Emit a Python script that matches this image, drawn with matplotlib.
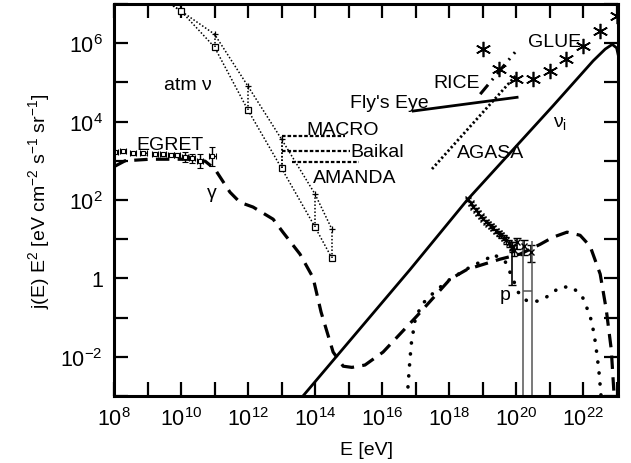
import numpy as np
import matplotlib
matplotlib.use("Agg")
import matplotlib.pyplot as plt

plt.rcParams['font.family'] = ['Liberation Sans', 'DejaVu Sans']
plt.rcParams['mathtext.fontset'] = 'custom'
plt.rcParams['mathtext.rm'] = 'Liberation Sans'
plt.rcParams['mathtext.it'] = 'Liberation Sans'
plt.rcParams['mathtext.default'] = 'regular'

# ---- data (log10 of energy in eV, log10 of E^2 j in eV cm^-2 s^-1 sr^-1) ----
# diffuse gamma-ray background model (dashed)
gamma_logE = [8.0, 8.33, 9.07, 10.27, 10.72, 11.01, 11.46, 11.76, 12.15, 12.75,
              13.04, 13.55, 13.94, 14.18, 14.54, 14.84, 15.10, 15.49, 16.03,
              17.04, 18.03, 18.54, 19.52, 20.12, 20.72, 21.10, 21.52, 21.91,
              22.21, 22.51, 22.69, 22.84, 22.93]
gamma_logF = [2.85, 3.0, 3.04, 3.04, 2.99, 2.79, 2.20, 1.94, 1.82, 1.51,
              1.18, 0.62, 0.02, -0.86, -1.88, -2.24, -2.27, -2.21, -1.88,
              -0.96, -0.02, 0.23, 0.49, 0.62, 0.87, 1.05, 1.18, 1.10,
              0.82, 0.11, -0.79, -1.81, -3.05]

# proton flux model (dotted)
p_logE = [16.75, 16.81, 16.87, 16.99, 17.19, 17.58, 18.03, 18.63, 19.22, 19.31,
          19.67, 19.91, 20.06, 20.33, 20.66, 20.96, 21.31, 21.67, 21.97, 22.21,
          22.33, 22.42, 22.48, 22.54]
p_logF = [-3.05, -2.32, -1.68, -1.04, -0.66, -0.33, -0.02, 0.29, 0.54, 0.62,
          0.44, -0.02, -0.35, -0.58, -0.58, -0.45, -0.22, -0.22, -0.45, -0.96,
          -1.42, -1.98, -2.44, -3.05]

# neutrino flux model nu_i (solid)
nu_logE = [13.64, 16.84, 18.54, 21.10, 22.30, 22.66, 22.87, 23.0, 23.1]
nu_logF = [-3.0, 0.23, 2.0, 4.4, 5.55, 5.85, 5.97, 5.88, 5.5]

# EGRET diffuse gamma data
egret_logE = [8.03, 8.27, 8.57, 8.87, 9.22, 9.46, 9.70, 9.88, 10.12, 10.33, 10.57, 10.93]
egret_logF = [3.22, 3.24, 3.19, 3.19, 3.17, 3.17, 3.16, 3.14, 3.09, 3.06, 2.99, 3.12]
egret_err = [0.03, 0.03, 0.03, 0.03, 0.03, 0.04, 0.04, 0.05, 0.13, 0.12, 0.18, 0.24]

# atmospheric neutrino band (upper / lower)
atm_logE = [9.5, 10.0, 11.0, 12.0, 13.0, 14.0, 14.5]
atm_hi = [7.1, 6.82, 6.23, 4.90, 3.55, 2.15, 1.26]
atm_lo = [7.1, 6.82, 5.90, 4.29, 2.81, 1.31, 0.52]

# underground / under-ice limits: (log E start, log E end, log flux)
limit_names = ['MACRO', 'Baikal', 'AMANDA']
limit_E0 = [13.01, 13.02, 13.3]
limit_E1 = [14.9, 15.05, 15.3]
limit_F = [3.63, 3.24, 2.96]

# Fly's Eye, RICE, AGASA limits
flyseye_logE = [16.93, 20.03]
flyseye_logF = [4.27, 4.62]
rice_logE = [18.93, 19.97]
rice_logF = [4.70, 5.77]
agasa_logE = [17.49, 20.03]
agasa_logF = [2.79, 5.21]

# GLUE limits
glue_logE = [19.0, 19.5, 20.0, 20.5, 21.0, 21.5, 22.0, 22.5, 23.0]
glue_logF = [5.85, 5.34, 5.08, 5.08, 5.29, 5.59, 5.92, 6.31, 6.69]

# ultra-high-energy cosmic ray data
cr_logE = [18.57, 18.65, 18.72, 18.80, 18.87, 18.95, 19.02, 19.10, 19.17, 19.25,
           19.32, 19.40, 19.48, 19.55, 19.63, 19.70, 19.78, 19.87, 19.95]
cr_logF = [2.02, 1.92, 1.83, 1.75, 1.67, 1.58, 1.52, 1.45, 1.40, 1.33,
           1.28, 1.22, 1.15, 1.10, 1.04, 0.97, 0.90, 0.80, 0.72]
cr_err = [0.04, 0.04, 0.04, 0.04, 0.04, 0.04, 0.04, 0.04, 0.04, 0.05,
          0.05, 0.05, 0.06, 0.06, 0.07, 0.08, 0.09, 0.12, 0.14]
cr_hi_logE = [19.88, 20.03, 20.25, 20.45]
cr_hi_logF = [0.78, 0.92, 0.82, 0.68]
cr_hi_up = [0.16, 0.12, 0.15, 0.16]
cr_hi_dn = [0.95, 0.18, 0.22, 0.25]

# highest-energy bins with flux compatible with zero
zero_logE = [20.21, 20.48]
zero_top = [0.95, 0.95]
zero_bar = -0.33

x_tick_exp = list(range(8, 24))
y_tick_exp = list(range(-3, 8))
x_label_exp = [8, 10, 12, 14, 16, 18, 20, 22]
y_label_exp = {-2: r'10$^{-2}$', 0: '1', 2: r'10$^{2}$', 4: r'10$^{4}$', 6: r'10$^{6}$'}


def p10(v):
    return np.power(10.0, np.asarray(v, dtype=float))


fig = plt.figure(figsize=(6.31, 4.64), dpi=100)
ax = fig.add_axes([114 / 631, 1 - 397 / 464, 504 / 631, 392 / 464])
ax.set_xscale('log')
ax.set_yscale('log')
ax.set_xlim(1e8, 1.1e23)
ax.set_ylim(1e-3, 1e7)

# model curves
ax.plot(p10(gamma_logE), p10(gamma_logF), color='black', lw=2.3,
        linestyle=(0, (4.2, 2.6)))
ax.plot(p10(p_logE), p10(p_logF), color='black', lw=2.6,
        linestyle=(0, (0.05, 3.0)), dash_capstyle='round')
ax.plot(p10(nu_logE), p10(nu_logF), color='black', lw=2.0)

# atmospheric neutrinos
ax.plot(p10(atm_logE), p10(atm_hi), color='black', lw=1.1,
        linestyle=(0, (1, 1.3)), marker='+', ms=5, mew=0.9)
ax.plot(p10(atm_logE), p10(atm_lo), color='black', lw=1.1,
        linestyle=(0, (1, 1.3)), marker='s', ms=4.5, mfc='white', mew=0.9)
ax.vlines(p10(atm_logE), p10(atm_lo), p10(atm_hi), color='black', lw=1.1,
          linestyle=(0, (1, 1.3)))

# experimental limits
for e0, e1, f in zip(limit_E0, limit_E1, limit_F):
    ax.plot(p10([e0, e1]), p10([f, f]), color='black', lw=1.6,
            linestyle=(0, (1.6, 0.9)))
ax.vlines(p10(limit_E0[0]), p10(atm_lo[4]), p10(limit_F[0]), color='black',
          lw=1.1, linestyle=(0, (1, 1.3)))
ax.plot(p10(flyseye_logE), p10(flyseye_logF), color='black', lw=2.0)
ax.plot(p10(rice_logE), p10(rice_logF), color='black', lw=2.2,
        linestyle=(0, (4, 2, 0.6, 2)))
ax.plot(p10(agasa_logE), p10(agasa_logF), color='black', lw=2.0,
        linestyle=(0, (0.8, 0.9)))
ax.plot(p10(glue_logE), p10(glue_logF), linestyle='none', marker=(6, 2, 0),
        ms=11, mew=1.2, color='black')

# EGRET
egret_x = p10(egret_logE)
ax.errorbar(egret_x, p10(egret_logF),
            xerr=[egret_x * (1 - 10 ** -0.1), egret_x * (10 ** 0.1 - 1)],
            yerr=[p10(egret_logF) * (1 - 10 ** -np.array(egret_err)),
                  p10(egret_logF) * (10 ** np.array(egret_err) - 1)],
            fmt='s', ms=3.5, mfc='white', mec='black', mew=0.8,
            ecolor='black', elinewidth=1.0, capsize=2.5, color='black')

# cosmic rays
cr_y = p10(cr_logF)
ax.errorbar(p10(cr_logE), cr_y,
            yerr=[cr_y * (1 - 10 ** -np.array(cr_err)), cr_y * (10 ** np.array(cr_err) - 1)],
            fmt='x', ms=4, mew=1.0, color='black', elinewidth=1.0, capsize=2.5)
crh_y = p10(cr_hi_logF)
ax.errorbar(p10(cr_hi_logE), crh_y,
            yerr=[crh_y * (1 - 10 ** -np.array(cr_hi_dn)), crh_y * (10 ** np.array(cr_hi_up) - 1)],
            fmt='x', ms=4, mew=1.0, color='black', elinewidth=1.2, capsize=3)
ax.vlines(p10(zero_logE), 1e-4, p10(zero_top), color='#555555', lw=1.1)
ax.hlines(p10(zero_bar), p10(zero_logE[0]), p10(zero_logE[1]), color='#555555', lw=1.1)

# labels
lab = dict(fontsize=14, color='black')
ax.text(p10(10.21), p10(4.95), 'atm ν', ha='center', va='center', **lab)
ax.text(p10(9.67), p10(3.42), 'EGRET', ha='center', va='center', **lab)
ax.text(p10(10.93), p10(2.20), 'γ', ha='center', va='center', **lab)
ax.text(p10(13.73), p10(3.81), 'MACRO', ha='left', va='center', **lab)
ax.text(p10(15.04), p10(3.24), 'Baikal', ha='left', va='center', **lab)
ax.text(p10(13.94), p10(2.58), 'AMANDA', ha='left', va='center', **lab)
ax.text(p10(15.04), p10(4.49), "Fly's Eye", ha='left', va='center', **lab)
ax.text(p10(17.52), p10(5.0), 'RICE', ha='left', va='center', **lab)
ax.text(p10(18.24), p10(3.22), 'AGASA', ha='left', va='center', **lab)
ax.text(p10(20.36), p10(6.05), 'GLUE', ha='left', va='center', **lab)
ax.text(p10(21.10), p10(3.98), r'ν$_{i}$', ha='left', va='center', **lab)
ax.text(p10(19.67), p10(-0.40), 'p', ha='center', va='center', **lab)

# axes styling
ax.set_xticks(p10(x_tick_exp))
ax.set_xticklabels([rf'10$^{{{k}}}$' if k in x_label_exp else '' for k in x_tick_exp])
ax.set_yticks(p10(y_tick_exp))
ax.set_yticklabels([y_label_exp.get(k, '') for k in y_tick_exp])
ax.minorticks_off()
ax.tick_params(which='major', direction='in', length=10, width=1.6,
               top=True, right=True, labelsize=15.5, pad=8)
for s in ax.spines.values():
    s.set_linewidth(2.2)
ax.set_xlabel('E [eV]', fontsize=14, labelpad=8)
ax.set_ylabel(r'j(E) E$^{2}$ [eV cm$^{-2}$ s$^{-1}$ sr$^{-1}$]', fontsize=14, labelpad=6)

fig.savefig('out.png', dpi=100)
